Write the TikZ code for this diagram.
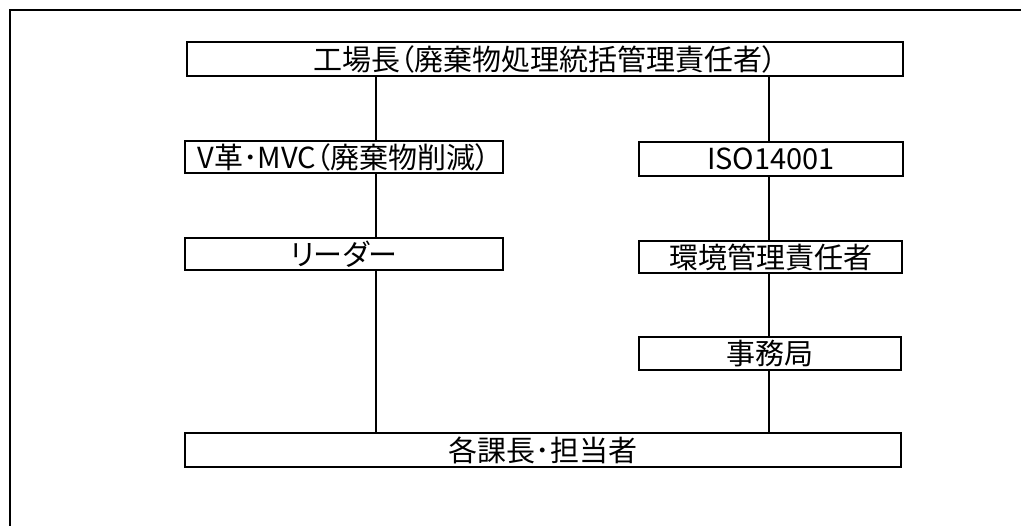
\documentclass[tikz,border=0pt]{standalone}
\usepackage{fontspec}
\setmainfont{Noto Sans CJK JP}[RawFeature=+palt]
\begin{document}
\begin{tikzpicture}[x=1pt,y=-1pt,
  box/.style={draw=black,line width=2pt,rectangle,inner sep=0pt,align=center,font=\fontsize{29}{32}\selectfont},
  conn/.style={draw=black,line width=1.2pt}]
\useasboundingbox (0,0) rectangle (1021,526);
\begin{scope}
\clip (0,0) rectangle (1021,526);
\draw[line width=2pt] (10,540) -- (10,10) -- (1040,10);
\end{scope}
\node[box,minimum width=716pt,minimum height=34pt] (top) at (545,59) {工場長（廃棄物処理統括管理責任者）};
\node[box,minimum width=318pt,minimum height=32pt] (vk) at (344,157) {V革･MVC（廃棄物削減）};
\node[box,minimum width=318pt,minimum height=32pt] (lead) at (344,254) {リーダー};
\node[box,minimum width=264pt,minimum height=34pt] (iso) at (771,159) {ISO14001};
\node[box,minimum width=263pt,minimum height=32pt] (kan) at (770.5,257) {環境管理責任者};
\node[box,minimum width=262pt,minimum height=33pt] (jim) at (770,353.5) {事務局};
\node[box,minimum width=716pt,minimum height=34pt] (bot) at (543,450) {各課長･担当者};
\coordinate (xl) at (376,0);
\coordinate (xr) at (769,0);
\draw[conn] (top.south -| xl) -- (vk.north -| xl);
\draw[conn] (vk.south -| xl) -- (lead.north -| xl);
\draw[conn] (lead.south -| xl) -- (bot.north -| xl);
\draw[conn] (top.south -| xr) -- (iso.north -| xr);
\draw[conn] (iso.south -| xr) -- (kan.north -| xr);
\draw[conn] (kan.south -| xr) -- (jim.north -| xr);
\draw[conn] (jim.south -| xr) -- (bot.north -| xr);
\end{tikzpicture}
\end{document}
